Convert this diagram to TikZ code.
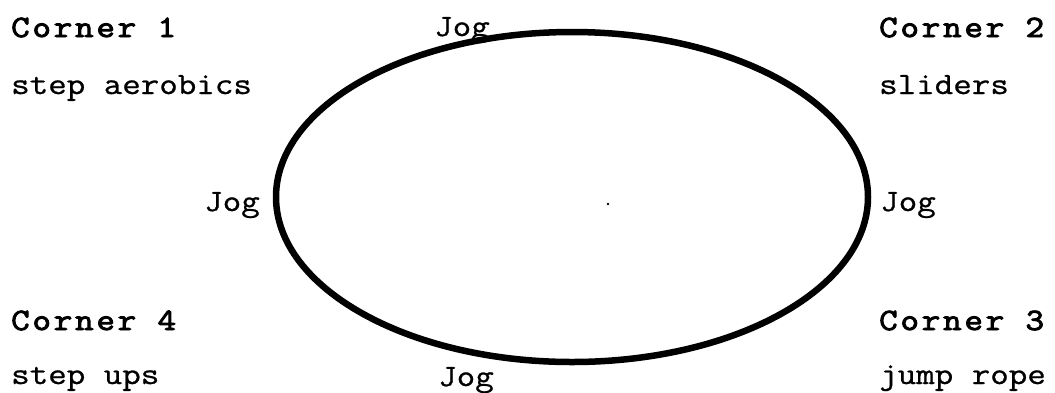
\documentclass[tikz,border=0pt]{standalone}
\usepackage{fontspec}
\newfontfamily\tw[FakeStretch=1.16,FakeBold=0.8]{Latin Modern Mono}
\newfontfamily\twb[FakeStretch=1.16,FakeBold=3,LetterSpace=9]{Latin Modern Mono}
\begin{document}
\begin{tikzpicture}[x=1pt,y=-1pt,
  lbl/.style={anchor=base west, inner sep=0pt, font=\fontsize{31}{36}\selectfont\tw},
  head/.style={anchor=base west, inner sep=0pt, font=\fontsize{31}{36}\selectfont\twb},
  track/.style={line width=6.5pt, draw=black}]
\useasboundingbox (0,0) rectangle (1055,392);
% track
\draw[track] (572,197) ellipse [x radius=296pt, y radius=165pt];
\fill (608,204) circle [radius=1.3pt];
% corners
\node[head] (c1) at (11,37) {Corner 1};
\node[lbl]  (a1) at (11,94) {step aerobics};
\node[head] (c2) at (879,37) {Corner 2};
\node[lbl]  (a2) at (879,94) {sliders};
\node[head] (c4) at (11,330) {Corner 4};
\node[lbl]  (a4) at (11,384) {step ups};
\node[head] (c3) at (879,330) {Corner 3};
\node[lbl]  (a3) at (879,384) {jump rope};
% jogs
\node[lbl] (jt) at (434,36) {Jog};
\node[lbl] (jl) at (204,211) {Jog};
\node[lbl] (jr) at (880,211) {Jog};
\node[lbl] (jb) at (438,386) {Jog};
\end{tikzpicture}
\end{document}
